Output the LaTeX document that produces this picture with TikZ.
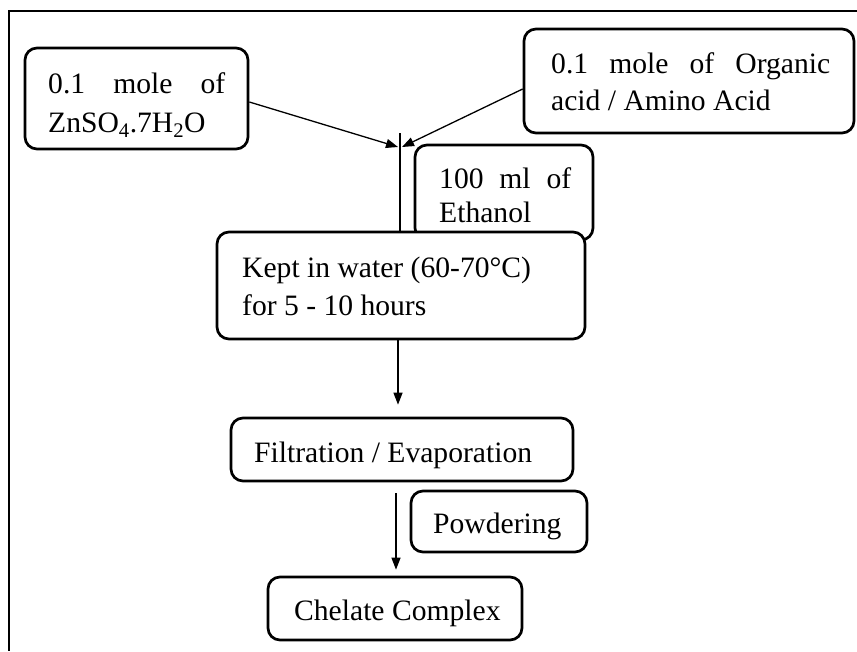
\documentclass[tikz,border=0pt]{standalone}
\usepackage{fontspec}
\setmainfont{Liberation Serif}
\usetikzlibrary{arrows.meta}
\begin{document}
\begin{tikzpicture}[x=1pt,y=-1pt,
 box/.style={draw, line width=2.7pt, rounded corners=12pt, fill=white, inner sep=0pt},
 txt/.style={anchor=base west, inner sep=0pt, font=\fontsize{29.6}{38}\selectfont},
 conn/.style={line width=1.3pt, -{Triangle[length=12pt,width=9pt]}},
 plain/.style={line width=1.3pt},
]
\useasboundingbox (0,0) rectangle (857,651);
% frame
\draw[line width=2pt] (857,11) -- (9,11) -- (9,651);
% boxes
\node[box, minimum width=223pt, minimum height=101pt] (A) at (136.5,98.5) {};
\node[box, minimum width=330pt, minimum height=104pt] (B) at (689,81) {};
\node[box, minimum width=178pt, minimum height=95pt] (C) at (504,192.5) {};
\node[box, minimum width=368pt, minimum height=107pt] (D) at (401,285.5) {};
\node[box, minimum width=342pt, minimum height=63pt] (E) at (402,449.5) {};
\node[box, minimum width=176pt, minimum height=61pt] (F) at (499,521.5) {};
\node[box, minimum width=254pt, minimum height=63pt] (G) at (395,608.5) {};
% texts
\node[txt] (a1) at (48,93) {\makebox[177pt][s]{0.1 mole of}};
\node[txt] (a2) at (48,132) {ZnSO\textsubscript{4}.7H\textsubscript{2}O};
\node[txt] (b1) at (551,73) {\makebox[279pt][s]{0.1 mole of Organic}};
\node[txt] (b2) at (551,110) {acid / Amino Acid};
\node[txt] (c1) at (439,188) {\makebox[132pt][s]{100 ml of}};
\node[txt] (c2) at (439,222) {Ethanol};
\node[txt] (d1) at (242,277) {Kept in water (60-70°C)};
\node[txt] (d2) at (242,315) {for 5 - 10 hours};
\node[txt] (e1) at (254,462) {Filtration / Evaporation};
\node[txt] (f1) at (433,533) {Powdering};
\node[txt] (g1) at (294,620) {Chelate Complex};
% connectors
\coordinate (tipL) at (398,147);
\coordinate (tipR) at (402,147);
\coordinate (vtop) at (400,133);
\draw[conn] ([yshift=-3.5pt]A.east) -- (tipL);
\draw[conn] ([yshift=-8pt]B.west) -- (tipR);
\draw[plain] (vtop) -- (vtop |- D.north);
\draw[conn, shorten >=12pt] ([xshift=-3pt]D.south) -- ([xshift=-4pt]E.north);
\draw[conn, shorten <=11pt, shorten >=6pt] ([xshift=-6pt]E.south) -- ([xshift=1pt]G.north);
\end{tikzpicture}
\end{document}
